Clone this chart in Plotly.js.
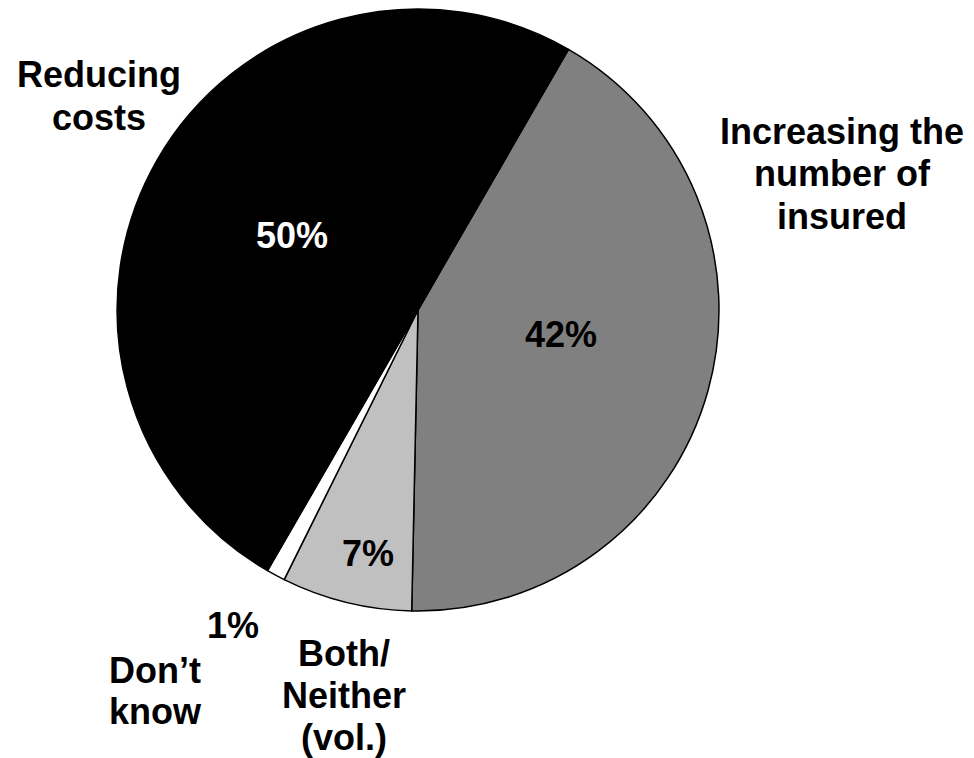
<!DOCTYPE html>
<html>
<head>
<meta charset="utf-8">
<script src="https://cdn.plot.ly/plotly-3.0.1.min.js"></script>
<style>html,body{margin:0;padding:0;background:#fff;}#chart{width:974px;height:758px;}</style>
</head>
<body>
<div id="chart"></div>
<script>
// Data (clockwise from the upper-right boundary)
const categories = ["Increasing the<br>number of<br>insured", "Both/<br>Neither<br>(vol.)", "Don\u2019t<br>know", "Reducing<br>costs"];
const values = [42, 7, 1, 50];
const pctLabels = ["42%", "7%", "1%", "50%"];
const sliceColors = ["#808080", "#c0c0c0", "#ffffff", "#000000"];
const pctColors = ["#000000", "#000000", "#000000", "#ffffff"];

// label placement (pixel positions in the 974x758 frame): x centre, first line centre, line step
const W = 974, H = 758;
const catPos = [[842, 131, 42.5], [344, 653, 42], [155, 670, 41], [99, 74, 44]];
const pctPos = [[561, 334], [368, 553], [233, 625], [292, 235]];

const font = {family: "Liberation Sans, Arial, sans-serif", size: 36, color: "#000"};
const annotations = [];
categories.forEach((c, i) => {
  c.split("<br>").forEach((line, j) => {
    annotations.push({
      text: "<b>" + line + "</b>", xref: "paper", yref: "paper",
      x: catPos[i][0] / W, y: 1 - (catPos[i][1] + j * catPos[i][2]) / H,
      xanchor: "center", yanchor: "middle", showarrow: false, align: "center",
      font: font
    });
  });
  annotations.push({
    text: "<b>" + pctLabels[i] + "</b>", xref: "paper", yref: "paper",
    x: pctPos[i][0] / W, y: 1 - pctPos[i][1] / H,
    xanchor: "center", yanchor: "middle", showarrow: false,
    font: Object.assign({}, font, {color: pctColors[i]})
  });
});

const cx = 418, cy = 310, r = 301;
const trace = {
  type: "pie",
  labels: categories,
  values: values,
  sort: false,
  direction: "clockwise",
  rotation: 30,
  textinfo: "none",
  hoverinfo: "label+percent",
  marker: {colors: sliceColors, line: {color: "#000", width: 1.5}},
  domain: {x: [(cx - r) / W, (cx + r) / W], y: [(H - cy - r) / H, (H - cy + r) / H]},
  showlegend: false
};

Plotly.newPlot("chart", [trace], {
  width: W, height: H,
  margin: {l: 0, r: 0, t: 0, b: 0},
  paper_bgcolor: "#fff",
  showlegend: false,
  annotations: annotations
}, {displayModeBar: false, staticPlot: true});
</script>
</body>
</html>
